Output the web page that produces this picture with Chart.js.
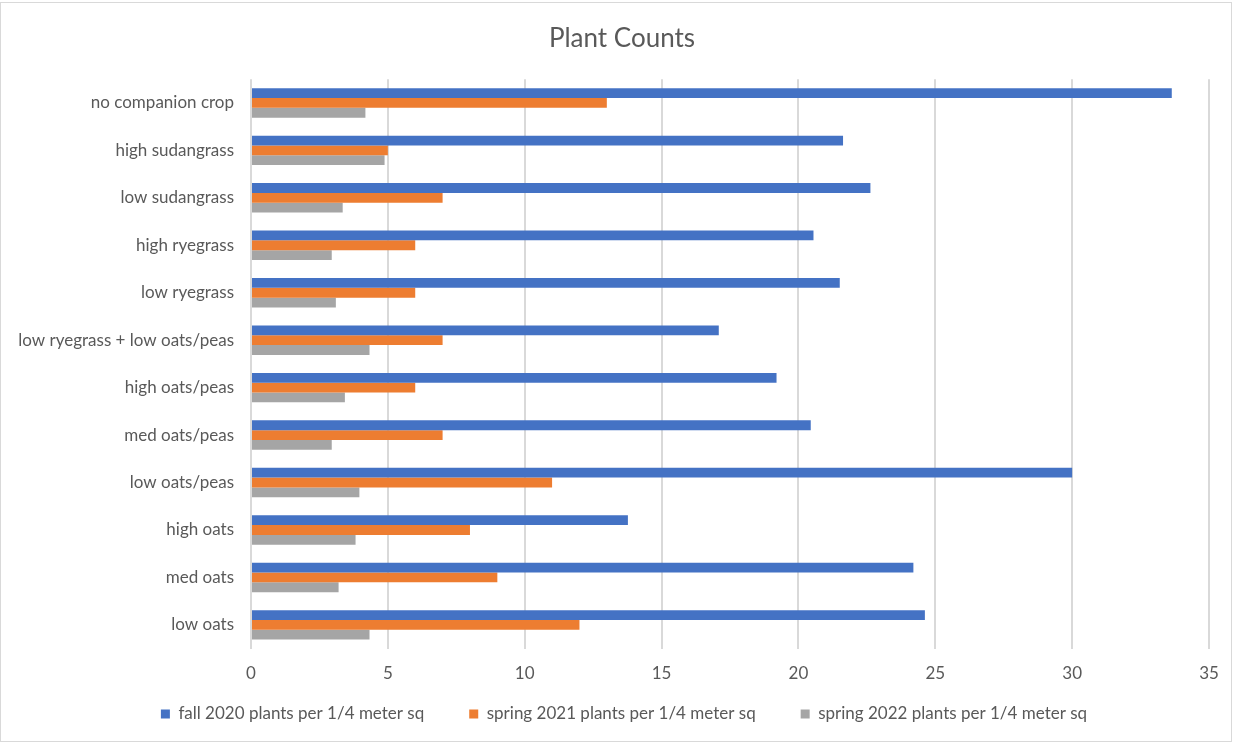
<!DOCTYPE html>
<html>
<head>
<meta charset="utf-8">
<script src="https://cdn.jsdelivr.net/npm/chart.js@4"></script>
<style>
    body { margin: 0; background: #fff; }
    #frame { position: absolute; left: 0; top: 2px; width: 1230px; height: 738px; border: 1px solid #d9d9d9; }
</style>
</head>
<body>
<div id="frame"><canvas id="barChart" width="1230" height="738"></canvas></div>
<script>
const categories = ['no companion crop', 'high sudangrass', 'low sudangrass', 'high ryegrass', 'low ryegrass',
    'low ryegrass + low oats/peas', 'high oats/peas', 'med oats/peas', 'low oats/peas', 'high oats', 'med oats', 'low oats'];
const fall2020 = [33.64, 21.63, 22.63, 20.55, 21.51, 17.09, 19.2, 20.45, 30, 13.77, 24.2, 24.62];
const spring2021 = [13, 5, 7, 6, 6, 7, 6, 7, 11, 8, 9, 12];
const spring2022 = [4.18, 4.88, 3.35, 2.95, 3.1, 4.33, 3.43, 2.95, 3.96, 3.82, 3.2, 4.33];
const seriesNames = ['fall 2020 plants per 1/4 meter sq', 'spring 2021 plants per 1/4 meter sq', 'spring 2022 plants per 1/4 meter sq'];
const xTicks = [0, 5, 10, 15, 20, 25, 30, 35];

const $ = id => document.getElementById(id);
const font = 'Lato, "Open Sans", sans-serif';
const textColor = '#595959';

const makeSet = (label, data, color) => ({
    label: label,
    data: data,
    backgroundColor: color,
    borderWidth: 0,
    categoryPercentage: 0.62,
    barPercentage: 1
});

// legend padding is big for the wide gaps between items, so stretch its box upward
// (only the top moves, the clip area still holds the items) and nudge it right
const legendLift = {
    id: 'legendLift',
    afterLayout(chart) {
        const lg = chart.legend;
        lg.top -= 38.5;
        lg.left += 10;
        lg.right += 10;
        // title sits a little right of centre in the original
        if (chart.titleBlock) {
            chart.titleBlock.left += 8;
            chart.titleBlock.right += 8;
        }
    }
};

window.onload = () => {
    new Chart($('barChart').getContext('2d'), {
        type: 'bar',
        data: {
            labels: categories,
            datasets: [
                makeSet(seriesNames[0], fall2020, '#4472C4'),
                makeSet(seriesNames[1], spring2021, '#ED7D31'),
                makeSet(seriesNames[2], spring2022, '#A5A5A5')
            ]
        },
        plugins: [legendLift],
        options: {
            indexAxis: 'y',
            responsive: false,
            animation: false,
            layout: { padding: { left: 10, right: 14, top: 16, bottom: 0 } },
            plugins: {
                title: {
                    display: true,
                    text: 'Plant Counts',
                    color: textColor,
                    font: { family: font, size: 26, weight: 'normal' },
                    padding: { top: 4, bottom: 25 }
                },
                legend: {
                    position: 'bottom',
                    maxHeight: 42,
                    labels: {
                        color: textColor,
                        font: { family: font, size: 17 },
                        boxWidth: 9,
                        boxHeight: 9,
                        padding: 45
                    }
                },
                tooltip: { enabled: false }
            },
            scales: {
                x: {
                    min: 0,
                    max: 35,
                    afterBuildTicks: axis => { axis.ticks = xTicks.map(v => ({ value: v })); },
                    afterFit: axis => { axis.paddingRight = 22; },
                    grid: { color: '#d9d9d9', lineWidth: 2, drawTicks: false },
                    border: { display: false },
                    ticks: { color: textColor, font: { family: font, size: 17 }, padding: 15 }
                },
                y: {
                    grid: { display: false, drawTicks: false },
                    border: { display: false },
                    ticks: { color: textColor, font: { family: font, size: 17 }, padding: 17 },
                    afterFit: axis => { axis.width = 240; }
                }
            }
        }
    });
}
</script>
</body>
</html>
